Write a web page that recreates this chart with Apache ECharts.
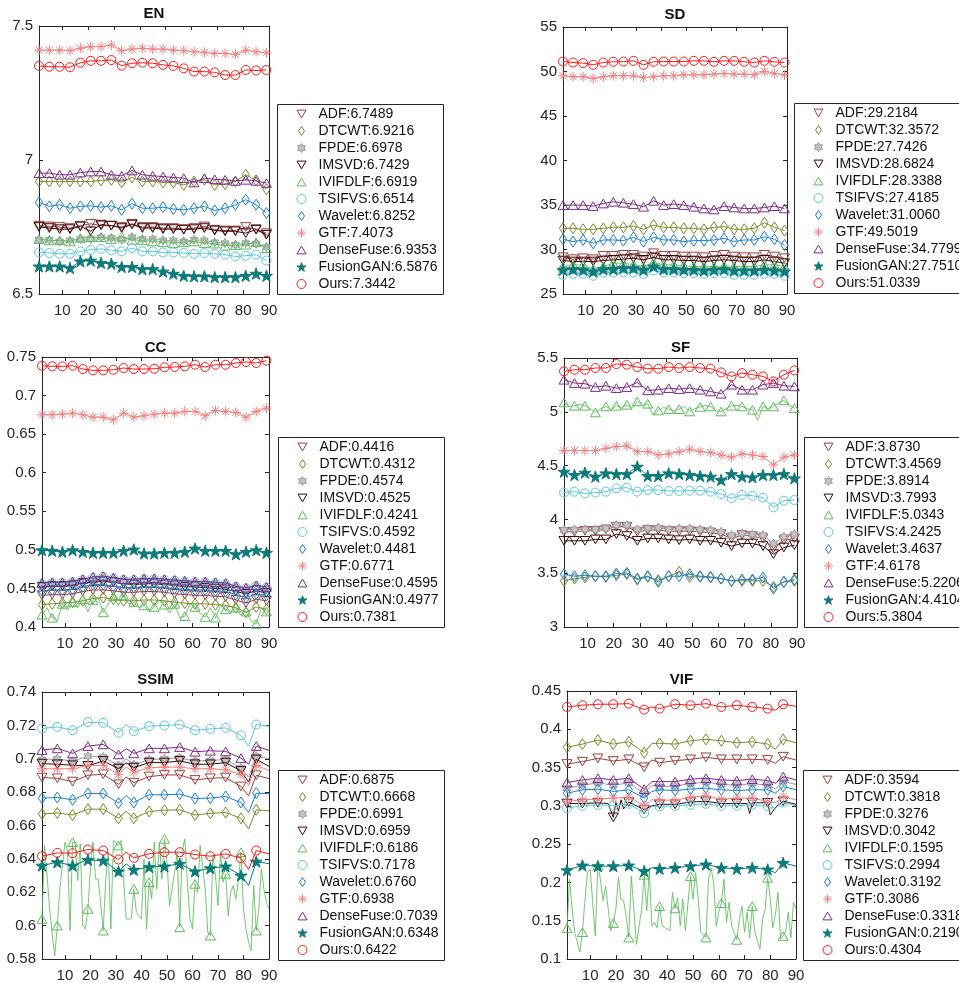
<!DOCTYPE html>
<html><head><meta charset="utf-8">
<script src="https://cdn.jsdelivr.net/npm/echarts@6/dist/echarts.min.js"></script>
<style>html,body{margin:0;padding:0;background:#fff}#c{width:959px;height:983px}</style>
</head><body><div id="c"></div>
<script>
// ---------------- DATA ----------------
const METHODS = ['ADF','DTCWT','FPDE','IMSVD','IVIFDLF','TSIFVS','Wavelet','GTF','DenseFuse','FusionGAN','Ours'];
const TITLES = ['EN','SD','CC','SF','SSIM','VIF'];
const Y_MIN = [6.5, 25, 0.4, 3, 0.58, 0.1];
const Y_MAX = [7.5, 55, 0.75, 5.5, 0.74, 0.45];
const Y_STEP = [0.5, 5, 0.05, 0.5, 0.02, 0.05];
const X_TICKS = [10,20,30,40,50,60,70,80,90];

const LEG_EN = ['6.7489','6.9216','6.6978','6.7429','6.6919','6.6514','6.8252','7.4073','6.9353','6.5876','7.3442'];
const LEG_SD = ['29.2184','32.3572','27.7426','28.6824','28.3388','27.4185','31.0060','49.5019','34.7799','27.7510','51.0339'];
const LEG_CC = ['0.4416','0.4312','0.4574','0.4525','0.4241','0.4592','0.4481','0.6771','0.4595','0.4977','0.7381'];
const LEG_SF = ['3.8730','3.4569','3.8914','3.7993','5.0343','4.2425','3.4637','4.6178','5.2206','4.4104','5.3804'];
const LEG_SSIM = ['0.6875','0.6668','0.6991','0.6959','0.6186','0.7178','0.6760','0.6938','0.7039','0.6348','0.6422'];
const LEG_VIF = ['0.3594','0.3818','0.3276','0.3042','0.1595','0.2994','0.3192','0.3086','0.3318','0.2190','0.4304'];

// x positions: EN/SD/CC/SF sampled every 4 images; SSIM/VIF every 6 (+ a few visible dips)
const X4 = [1,5,9,13,17,21,25,29,33,37,41,45,49,53,57,61,65,69,73,77,81,85,89];
const X2 = [1,3,5,7,9,11,13,15,17,19,21,23,25,27,29,31,33,35,37,39,41,43,45,47,49,51,53,55,57,59,61,63,65,67,69,71,73,75,77,79,81,83,85,87,89];
const X6 = [1,7,13,19,25,31,34,37,43,49,55,61,67,73,79,82,85,90];

// EN
const EN_ADF = [6.755,6.752,6.750,6.746,6.755,6.762,6.755,6.755,6.750,6.762,6.750,6.750,6.746,6.746,6.742,6.746,6.752,6.740,6.737,6.737,6.750,6.742,6.727];
const EN_DTCWT = [6.920,6.920,6.920,6.920,6.920,6.920,6.924,6.926,6.917,6.935,6.920,6.920,6.916,6.916,6.907,6.920,6.926,6.907,6.910,6.920,6.945,6.924,6.891];
const EN_FPDE = [6.702,6.702,6.696,6.700,6.705,6.705,6.712,6.709,6.702,6.712,6.705,6.705,6.700,6.700,6.696,6.702,6.700,6.693,6.690,6.684,6.690,6.688,6.675];
const EN_IMSVD = [6.750,6.746,6.742,6.742,6.752,6.734,6.759,6.755,6.746,6.759,6.746,6.746,6.742,6.742,6.740,6.742,6.746,6.737,6.734,6.734,6.727,6.740,6.721];
const EN_IVIFDLF = [6.705,6.700,6.700,6.696,6.709,6.712,6.712,6.705,6.715,6.702,6.700,6.696,6.693,6.690,6.693,6.696,6.690,6.688,6.680,6.682,6.684,6.693,6.671];
const EN_TSIFVS = [6.655,6.653,6.650,6.650,6.659,6.665,6.668,6.663,6.659,6.671,6.659,6.659,6.655,6.655,6.653,6.650,6.653,6.650,6.647,6.640,6.643,6.647,6.625];
const EN_Wavelet = [6.842,6.827,6.833,6.820,6.827,6.829,6.824,6.829,6.814,6.837,6.820,6.820,6.824,6.817,6.814,6.820,6.827,6.812,6.820,6.833,6.852,6.833,6.802];
const EN_GTF = [7.410,7.410,7.410,7.408,7.417,7.423,7.423,7.429,7.408,7.414,7.417,7.414,7.414,7.410,7.408,7.404,7.402,7.398,7.398,7.394,7.410,7.404,7.400];
const EN_DenseFuse = [6.951,6.951,6.945,6.945,6.953,6.957,6.957,6.945,6.941,6.961,6.945,6.941,6.938,6.935,6.932,6.916,6.932,6.928,6.926,6.922,6.926,6.922,6.914];
const EN_FusionGAN = [6.603,6.603,6.603,6.597,6.622,6.625,6.616,6.613,6.601,6.601,6.593,6.593,6.584,6.576,6.568,6.566,6.566,6.563,6.563,6.563,6.568,6.576,6.568];
const EN_Ours = [7.351,7.348,7.348,7.346,7.363,7.370,7.370,7.373,7.352,7.361,7.363,7.361,7.355,7.351,7.342,7.330,7.330,7.327,7.317,7.317,7.336,7.334,7.336];

// SD
const SD_ADF = [29.13,28.91,29.02,28.91,29.28,29.28,29.40,29.40,29.21,29.58,29.28,29.28,29.21,29.21,29.13,29.28,29.40,29.21,29.13,29.13,29.40,29.21,29.02];
const SD_DTCWT = [32.38,32.38,32.27,32.27,32.38,32.49,32.49,32.64,32.27,32.75,32.49,32.49,32.38,32.38,32.27,32.49,32.57,32.27,32.27,32.38,33.01,32.49,32.12];
const SD_FPDE = [27.79,27.72,27.72,27.53,27.79,27.90,27.90,27.90,27.79,28.09,27.79,27.79,27.72,27.72,27.64,27.72,27.79,27.72,27.64,27.64,27.79,27.72,27.64];
const SD_IMSVD = [28.76,28.65,28.65,28.65,28.76,28.84,28.91,29.02,28.84,29.13,28.84,28.84,28.76,28.76,28.65,28.76,28.84,28.76,28.65,28.65,28.84,28.65,28.46];
const SD_IVIFDLF = [28.09,28.28,28.28,27.79,28.09,28.46,28.46,28.28,28.09,28.54,28.28,28.28,28.16,28.09,28.09,28.09,28.16,28.09,28.09,28.09,28.28,28.28,28.09];
const SD_TSIFVS = [27.16,27.27,27.27,27.05,27.42,27.42,27.42,27.42,27.27,27.64,27.42,27.42,27.35,27.35,27.27,27.35,27.35,27.16,27.16,27.16,27.27,27.27,27.05];
const SD_Wavelet = [31.15,30.89,31.07,30.70,31.07,31.07,31.00,31.37,30.89,31.37,31.07,31.07,30.89,31.00,31.00,31.07,31.26,30.89,31.07,31.07,31.44,31.15,30.51];
const SD_GTF = [49.52,49.41,49.41,49.22,49.41,49.52,49.52,49.52,49.33,49.41,49.52,49.52,49.63,49.63,49.63,49.71,49.78,49.71,49.71,49.63,50.01,49.78,49.63];
const SD_DenseFuse = [34.99,34.99,34.99,34.87,35.17,35.36,35.25,35.10,34.80,35.47,34.99,35.10,34.99,34.80,34.61,34.50,34.87,34.72,34.61,34.61,34.72,34.87,34.61];
const SD_FusionGAN = [27.72,27.79,27.72,27.53,27.79,27.79,27.90,27.90,27.72,28.09,27.79,27.79,27.72,27.72,27.64,27.72,27.79,27.64,27.64,27.64,27.72,27.64,27.53];
const SD_Ours = [51.12,51.01,50.94,50.75,51.01,51.09,51.12,51.20,50.75,51.09,51.12,51.12,51.12,51.20,51.20,51.09,51.20,51.20,51.09,51.01,51.20,51.09,51.01];

// CC
const CC_ADF = [0.441,0.442,0.442,0.443,0.446,0.448,0.448,0.447,0.445,0.445,0.446,0.446,0.445,0.443,0.442,0.441,0.441,0.440,0.439,0.435,0.431,0.436,0.434];
const CC_DTCWT = [0.429,0.430,0.431,0.432,0.434,0.437,0.438,0.436,0.434,0.434,0.435,0.435,0.434,0.432,0.431,0.430,0.430,0.429,0.428,0.425,0.419,0.426,0.423];
const CC_FPDE = [0.454,0.455,0.455,0.456,0.459,0.461,0.462,0.461,0.459,0.459,0.460,0.460,0.459,0.458,0.457,0.456,0.456,0.455,0.454,0.450,0.448,0.451,0.449];
const CC_IMSVD = [0.452,0.453,0.453,0.454,0.457,0.458,0.459,0.458,0.456,0.455,0.456,0.456,0.455,0.454,0.452,0.452,0.451,0.450,0.449,0.446,0.443,0.447,0.444];
const CC_IVIFDLF = [0.416,0.425,0.412,0.408,0.430,0.422,0.432,0.425,0.436,0.420,0.435,0.438,0.419,0.430,0.440,0.428,0.441,0.430,0.432,0.425,0.428,0.420,0.426,0.434,0.429,0.418,0.430,0.412,0.414,0.430,0.426,0.418,0.413,0.425,0.412,0.428,0.423,0.418,0.425,0.415,0.420,0.408,0.404,0.425,0.420];
const CC_TSIFVS = [0.456,0.457,0.457,0.458,0.461,0.464,0.465,0.463,0.461,0.461,0.462,0.462,0.461,0.460,0.459,0.458,0.458,0.457,0.456,0.452,0.450,0.453,0.451];
const CC_Wavelet = [0.447,0.448,0.448,0.449,0.452,0.455,0.455,0.453,0.451,0.451,0.452,0.452,0.451,0.450,0.449,0.448,0.448,0.447,0.446,0.442,0.438,0.443,0.441];
const CC_GTF = [0.6751,0.6751,0.6759,0.6772,0.6751,0.6720,0.6720,0.6686,0.6772,0.6720,0.6738,0.6759,0.6772,0.6772,0.6794,0.6794,0.6738,0.6807,0.6794,0.6781,0.6720,0.6794,0.6837];
const CC_DenseFuse = [0.457,0.458,0.458,0.459,0.462,0.465,0.466,0.464,0.462,0.462,0.463,0.463,0.462,0.461,0.460,0.459,0.459,0.458,0.457,0.453,0.451,0.454,0.452];
const CC_FusionGAN = [0.4996,0.4988,0.4975,0.4996,0.4975,0.4962,0.4962,0.4962,0.4988,0.5005,0.4953,0.4953,0.4962,0.4962,0.4975,0.5018,0.4988,0.4988,0.4988,0.4944,0.4975,0.4996,0.4962];
const CC_Ours = [0.7387,0.7379,0.7379,0.7387,0.7344,0.7327,0.7327,0.7335,0.7357,0.7344,0.7344,0.7348,0.7366,0.7370,0.7379,0.7400,0.7370,0.7400,0.7400,0.7422,0.7435,0.7422,0.7452];

// SF
const SF_ADF = [3.885,3.885,3.894,3.894,3.907,3.932,3.932,3.885,3.901,3.901,3.891,3.891,3.891,3.885,3.876,3.863,3.823,3.854,3.845,3.823,3.730,3.807,3.823];
const SF_DTCWT = [3.429,3.450,3.460,3.472,3.466,3.481,3.491,3.441,3.466,3.435,3.472,3.512,3.466,3.466,3.460,3.450,3.429,3.429,3.429,3.429,3.373,3.419,3.429];
const SF_FPDE = [3.901,3.907,3.907,3.907,3.916,3.947,3.947,3.907,3.916,3.922,3.907,3.916,3.916,3.907,3.901,3.885,3.854,3.870,3.863,3.854,3.776,3.839,3.863];
const SF_IMSVD = [3.801,3.801,3.801,3.814,3.814,3.863,3.845,3.801,3.823,3.823,3.814,3.807,3.814,3.801,3.801,3.783,3.752,3.776,3.776,3.752,3.677,3.739,3.761];
const SF_IVIFDLF = [5.087,5.050,5.056,5.070,5.056,5.030,4.994,5.030,5.050,5.020,5.056,5.040,5.065,5.030,5.096,5.060,5.075,4.970,5.012,5.040,5.025,5.010,5.025,5.050,5.003,5.030,5.045,5.060,5.050,5.010,5.003,5.030,5.056,5.060,5.050,5.030,5.019,4.920,5.050,5.030,5.050,5.080,5.106,5.060,5.034];
const SF_TSIFVS = [4.249,4.258,4.242,4.249,4.258,4.289,4.295,4.258,4.273,4.273,4.264,4.264,4.267,4.267,4.258,4.236,4.196,4.227,4.220,4.202,4.112,4.174,4.180];
const SF_Wavelet = [3.491,3.472,3.481,3.472,3.472,3.497,3.503,3.450,3.472,3.419,3.472,3.472,3.491,3.472,3.466,3.450,3.429,3.441,3.441,3.460,3.357,3.419,3.441];
const SF_GTF = [4.640,4.640,4.640,4.640,4.661,4.677,4.683,4.630,4.630,4.599,4.609,4.630,4.652,4.630,4.621,4.599,4.578,4.609,4.599,4.584,4.506,4.578,4.599];
const SF_DenseFuse = [5.298,5.267,5.261,5.230,5.242,5.220,5.230,5.273,5.199,5.205,5.220,5.211,5.220,5.205,5.189,5.168,5.252,5.205,5.205,5.252,5.267,5.242,5.236];
const SF_FusionGAN = [4.444,4.413,4.435,4.398,4.429,4.422,4.422,4.491,4.404,4.404,4.429,4.422,4.413,4.404,4.398,4.366,4.422,4.398,4.391,4.413,4.413,4.422,4.382];
const SF_Ours = [5.376,5.391,5.391,5.407,5.407,5.444,5.438,5.416,5.401,5.401,5.416,5.407,5.416,5.407,5.401,5.366,5.329,5.360,5.345,5.329,5.283,5.345,5.385];

// SSIM
const SSIM_ADF = [0.6887,0.6883,0.6863,0.6901,0.6907,0.6847,0.6890,0.6857,0.6893,0.6903,0.6903,0.6873,0.6883,0.6887,0.6834,0.6778,0.6901,0.6881];
const SSIM_DTCWT = [0.6669,0.6675,0.6663,0.6698,0.6698,0.6643,0.6685,0.6643,0.6684,0.6692,0.6694,0.6663,0.6673,0.6678,0.6643,0.6579,0.6694,0.6688];
const SSIM_FPDE = [0.6995,0.7000,0.6985,0.7015,0.7010,0.6960,0.7000,0.6965,0.6995,0.7000,0.7005,0.6985,0.6990,0.6995,0.6945,0.6890,0.7015,0.7000];
const SSIM_IMSVD = [0.6971,0.6967,0.6961,0.6957,0.6987,0.6941,0.6975,0.6947,0.6977,0.6977,0.6987,0.6967,0.6967,0.6977,0.6927,0.6860,0.6996,0.6955];
const SSIM_IVIFDLF_X = [1,2,3,4,5,6,7,8,10,11,12,13,14,15,16,17,18,19,20,21,22,23,24,25,26,27,28,29,31,32,33,34,36,37,38,40,41,42,43,44,45,46,47,48,49,50,51,53,54,55,56,57,58,59,60,61,62,63,64,65,66,67,68,69,70,71,72,73,74,75,76,77,78,79,80,81,82,83,84,85,86,87,88,89,90];
const SSIM_IVIFDLF = [0.604,0.648,0.630,0.610,0.595,0.582,0.600,0.622,0.650,0.645,0.597,0.650,0.650,0.627,0.649,0.600,0.598,0.610,0.634,0.650,0.628,0.628,0.614,0.597,0.628,0.644,0.598,0.651,0.648,0.651,0.628,0.604,0.604,0.622,0.608,0.604,0.640,0.598,0.626,0.616,0.650,0.622,0.650,0.628,0.652,0.638,0.612,0.632,0.644,0.599,0.645,0.652,0.626,0.604,0.598,0.625,0.620,0.648,0.635,0.622,0.596,0.594,0.642,0.630,0.612,0.644,0.626,0.631,0.606,0.620,0.624,0.616,0.627,0.644,0.610,0.598,0.590,0.585,0.624,0.597,0.610,0.634,0.622,0.614,0.610];
const SSIM_TSIFVS = [0.7181,0.7191,0.7171,0.7219,0.7215,0.7156,0.7205,0.7165,0.7195,0.7199,0.7205,0.7171,0.7179,0.7185,0.7140,0.7076,0.7205,0.7195];
const SSIM_Wavelet = [0.6764,0.6768,0.6754,0.6792,0.6792,0.6734,0.6780,0.6738,0.6784,0.6784,0.6788,0.6762,0.6764,0.6774,0.6738,0.6678,0.6794,0.6790];
const SSIM_GTF = [0.6940,0.6940,0.6940,0.6960,0.6960,0.6906,0.6950,0.6920,0.6946,0.6950,0.6950,0.6940,0.6940,0.6934,0.6906,0.6840,0.6960,0.6930];
const SSIM_DenseFuse = [0.7052,0.7062,0.7032,0.7076,0.7086,0.7026,0.7060,0.7032,0.7062,0.7062,0.7070,0.7042,0.7048,0.7044,0.7004,0.6967,0.7076,0.7050];
const SSIM_FusionGAN = [0.6360,0.6380,0.6360,0.6394,0.6390,0.6325,0.6370,0.6335,0.6351,0.6355,0.6371,0.6325,0.6344,0.6355,0.6301,0.6241,0.6384,0.6371];
const SSIM_Ours = [0.6416,0.6436,0.6434,0.6456,0.6450,0.6396,0.6440,0.6406,0.6430,0.6440,0.6440,0.6426,0.6416,0.6430,0.6404,0.6337,0.6450,0.6430];

// VIF
const VIF_ADF = [0.3547,0.3577,0.3621,0.3586,0.3608,0.3504,0.3599,0.3564,0.3590,0.3608,0.3634,0.3608,0.3608,0.3608,0.3599,0.3556,0.3642,0.3599];
const VIF_DTCWT = [0.3764,0.3807,0.3859,0.3807,0.3837,0.3694,0.3816,0.3816,0.3807,0.3850,0.3868,0.3850,0.3824,0.3837,0.3807,0.3740,0.3868,0.3824];
const VIF_FPDE = [0.323,0.327,0.330,0.327,0.330,0.316,0.327,0.325,0.326,0.329,0.331,0.328,0.327,0.329,0.327,0.322,0.332,0.328];
const VIF_IMSVD_X = [1,7,13,17,19,20,21,22,23,25,31,34,37,43,49,55,61,67,71,72,73,79,80,82,85,90];
const VIF_IMSVD = [0.303,0.303,0.304,0.303,0.285,0.305,0.293,0.308,0.296,0.305,0.295,0.300,0.302,0.302,0.305,0.306,0.303,0.303,0.303,0.290,0.304,0.304,0.288,0.298,0.306,0.302];
const VIF_IVIFDLF_X = [1,2,3,4,6,7,8,9,10,12,13,14,15,16,18,19,20,21,22,23,24,25,26,28,30,31,32,33,34,35,36,37,38,39,41,42,43,44,45,46,47,49,50,51,52,53,55,56,57,58,59,60,61,62,63,64,65,67,68,69,70,71,72,73,74,76,77,78,79,80,81,82,83,84,85,86,87,88,89,90];
const VIF_IVIFDLF = [0.140,0.204,0.165,0.135,0.109,0.135,0.178,0.213,0.217,0.130,0.222,0.204,0.176,0.195,0.137,0.147,0.165,0.207,0.178,0.176,0.156,0.128,0.208,0.119,0.165,0.210,0.163,0.215,0.143,0.148,0.141,0.169,0.143,0.141,0.137,0.187,0.166,0.180,0.143,0.178,0.137,0.208,0.178,0.213,0.178,0.135,0.128,0.204,0.219,0.200,0.143,0.161,0.173,0.204,0.148,0.174,0.143,0.125,0.152,0.169,0.135,0.161,0.128,0.169,0.135,0.113,0.152,0.165,0.206,0.178,0.141,0.158,0.187,0.126,0.130,0.137,0.161,0.128,0.174,0.165];
const VIF_TSIFVS = [0.2971,0.3001,0.3014,0.3001,0.3027,0.2906,0.2993,0.2993,0.3001,0.3014,0.3027,0.3001,0.3001,0.3014,0.2993,0.2971,0.3045,0.3001];
const VIF_Wavelet = [0.3166,0.3209,0.3218,0.3188,0.3209,0.3101,0.3188,0.3209,0.3201,0.3218,0.3231,0.3209,0.3201,0.3209,0.3209,0.3166,0.3252,0.3209];
const VIF_GTF = [0.3058,0.3079,0.3088,0.3101,0.3114,0.3001,0.3079,0.3079,0.3071,0.3114,0.3131,0.3088,0.3101,0.3101,0.3058,0.3040,0.3123,0.3079];
const VIF_DenseFuse = [0.3305,0.3339,0.3361,0.3339,0.3361,0.3218,0.3317,0.3317,0.3317,0.3348,0.3361,0.3339,0.3330,0.3348,0.3330,0.3296,0.3382,0.3339];
const VIF_FusionGAN = [0.2161,0.2222,0.2213,0.2213,0.2222,0.2148,0.2191,0.2178,0.2191,0.2213,0.2235,0.2191,0.2178,0.2191,0.2170,0.2126,0.2256,0.2213];
const VIF_Ours = [0.4292,0.4314,0.4327,0.4327,0.4335,0.4257,0.4292,0.4270,0.4327,0.4314,0.4335,0.4292,0.4314,0.4292,0.4270,0.4249,0.4327,0.4301];

// ------------- tables built from the arrays -------------
const VALUES = [
  [EN_ADF,EN_DTCWT,EN_FPDE,EN_IMSVD,EN_IVIFDLF,EN_TSIFVS,EN_Wavelet,EN_GTF,EN_DenseFuse,EN_FusionGAN,EN_Ours],
  [SD_ADF,SD_DTCWT,SD_FPDE,SD_IMSVD,SD_IVIFDLF,SD_TSIFVS,SD_Wavelet,SD_GTF,SD_DenseFuse,SD_FusionGAN,SD_Ours],
  [CC_ADF,CC_DTCWT,CC_FPDE,CC_IMSVD,CC_IVIFDLF,CC_TSIFVS,CC_Wavelet,CC_GTF,CC_DenseFuse,CC_FusionGAN,CC_Ours],
  [SF_ADF,SF_DTCWT,SF_FPDE,SF_IMSVD,SF_IVIFDLF,SF_TSIFVS,SF_Wavelet,SF_GTF,SF_DenseFuse,SF_FusionGAN,SF_Ours],
  [SSIM_ADF,SSIM_DTCWT,SSIM_FPDE,SSIM_IMSVD,SSIM_IVIFDLF,SSIM_TSIFVS,SSIM_Wavelet,SSIM_GTF,SSIM_DenseFuse,SSIM_FusionGAN,SSIM_Ours],
  [VIF_ADF,VIF_DTCWT,VIF_FPDE,VIF_IMSVD,VIF_IVIFDLF,VIF_TSIFVS,VIF_Wavelet,VIF_GTF,VIF_DenseFuse,VIF_FusionGAN,VIF_Ours]
];
const XOVERRIDE = [
  {}, {}, {4: X2}, {4: X2}, {4: SSIM_IVIFDLF_X}, {3: VIF_IMSVD_X, 4: VIF_IVIFDLF_X}
];
const DEF_X = [X4, X4, X4, X4, X6, X6];
const MARK_STEP = [4, 4, 4, 4, 6, 6];
const LEGENDS = [LEG_EN, LEG_SD, LEG_CC, LEG_SF, LEG_SSIM, LEG_VIF];

// ------------- styles / layout -------------
const COLORS = ['#9b3f3f','#7c8a2c','#9a9a9a','#3a0808','#5cbd5c','#5cc6df','#1a7fd4','#f28080','#7d2a8c','#0d7b7a','#ff1a1a'];
const TRI_DOWN = 'path://M0,0 L10,0 L5,8.66 Z';
const TRI_UP = 'path://M5,0 L10,8.66 L0,8.66 Z';
const DIAMOND = 'path://M4,0 L8,6 L4,12 L0,6 Z';
const HEXAGRAM = 'path://M5,0 L6.443,2.5 L9.33,2.5 L7.887,5 L9.33,7.5 L6.443,7.5 L5,10 L3.557,7.5 L0.67,7.5 L2.113,5 L0.67,2.5 L3.557,2.5 Z';
const PENTAGRAM = 'path://M5,0 L6.123,3.455 L9.755,3.455 L6.817,5.59 L7.939,9.045 L5,6.91 L2.061,9.045 L3.183,5.59 L0.245,3.455 L3.877,3.455 Z';
const ASTERISK = 'path://M5,0 L5,10 M0,5 L10,5 M1.5,1.5 L8.5,8.5 M1.5,8.5 L8.5,1.5';
const SYMBOLS = [TRI_DOWN, DIAMOND, HEXAGRAM, TRI_DOWN, TRI_UP, 'circle', DIAMOND, ASTERISK, TRI_UP, PENTAGRAM, 'circle'];
const SYM_SIZE = [10, 11, 9, 10, 10, 9, 11, 10, 10, 12, 9];
const FILLS = ['none','none','#c4c4c4','none','none','none','none','none','none','#0d7b7a','none'];

const LAYOUT = [
  {l:39, t:26, w:230, h:268, box:[277,104,166,190], ty:6},
  {l:563, t:27, w:224, h:267, box:[794,103,200,190], ty:7},
  {l:42, t:357, w:227, h:270, box:[278,437,166,190], ty:340},
  {l:564, t:358, w:233, h:269, box:[804,437,200,190], ty:340},
  {l:42, t:692, w:227, h:269, box:[278,770,166,190], ty:672},
  {l:567, t:691, w:229, h:269, box:[803,770,200,190], ty:672}
];
const AX = '#262626';
const FONT = '"Liberation Sans", Arial, Helvetica, sans-serif';

// ------------- option -------------
const grids = [], xAxes = [], yAxes = [], titles = [], legends = [], series = [], graphics = [];
const xTop = [], yRight = [];
LAYOUT.forEach((L, p) => {
  grids.push({left:L.l, top:L.t, width:L.w, height:L.h});
  titles.push({text:TITLES[p], left:L.l + L.w/2, top:L.ty, textAlign:'center', padding:0,
    textStyle:{fontSize:15, fontWeight:'bold', color:'#111', fontFamily:FONT}});
  const axLine = {show:true, onZero:false, lineStyle:{color:AX, width:1}};
  const tick = {show:true, inside:true, length:4, lineStyle:{color:AX, width:1}};
  xAxes.push({type:'value', gridIndex:p, min:1, max:90, position:'bottom', axisLine:axLine,
    axisTick:Object.assign({customValues:X_TICKS}, tick),
    axisLabel:{customValues:X_TICKS, color:AX, fontSize:15, margin:9, fontFamily:FONT}, splitLine:{show:false}});
  xTop.push({type:'value', gridIndex:p, min:1, max:90, position:'top', axisLine:axLine,
    axisTick:Object.assign({customValues:X_TICKS}, tick), axisLabel:{show:false}, splitLine:{show:false}});
  yAxes.push({type:'value', gridIndex:p, min:Y_MIN[p], max:Y_MAX[p], interval:Y_STEP[p], position:'left', axisLine:axLine,
    axisTick:tick, axisLabel:{color:AX, fontSize:15, margin:6, fontFamily:FONT}, splitLine:{show:false}});
  yRight.push({type:'value', gridIndex:p, min:Y_MIN[p], max:Y_MAX[p], interval:Y_STEP[p], position:'right', axisLine:axLine,
    axisTick:tick, axisLabel:{show:false}, splitLine:{show:false}});

  const [bx, by, bw, bh] = L.box;
  graphics.push({type:'rect', z:0, silent:true, shape:{x:bx+0.5, y:by+0.5, width:bw, height:bh},
    style:{fill:'#fff', stroke:AX, lineWidth:1}});

  const legData = [];
  METHODS.forEach((m, k) => {
    const name = m + ':' + LEGENDS[p][k];
    const c = COLORS[k];
    const fill = FILLS[k] === 'none' ? 'rgba(0,0,0,0)' : FILLS[k];
    const xs = XOVERRIDE[p][k] || DEF_X[p];
    const ys = VALUES[p][k];
    const step = MARK_STEP[p];
    const data = xs.map((x, i) => {
      const isMark = ((x - 1) % step === 0) && (step === 4 || x <= 85);
      return isMark ? [x, ys[i]] : {value:[x, ys[i]], symbol:'none'};
    });
    series.push({type:'line', name, xAxisIndex:p, yAxisIndex:p, data,
      symbol:SYMBOLS[k], symbolSize:SYM_SIZE[k], symbolKeepAspect:true, showAllSymbol:true,
      lineStyle:{color:c, width:1, opacity:(k===4 ? 0.85 : 1)},
      itemStyle:{color:fill, borderColor:c, borderWidth:1},
      emphasis:{disabled:true}, z:2 + k * 0.01, animation:false});
    legData.push({name, icon:SYMBOLS[k],
      itemStyle:{color:fill, borderColor:c, borderWidth:1}});
  });
  legends.push({orient:'vertical', left:bx + 19.5, top:by + 3, itemWidth:9, itemHeight:9, itemGap:3,
    padding:0, selectedMode:false, data:legData, z:5,
    textStyle:{fontSize:14, color:'#111', lineHeight:14, padding:[0,0,0,7.5], fontFamily:FONT}});
});

const option = {
  animation:false,
  backgroundColor:'#fff',
  textStyle:{fontFamily:FONT},
  title:titles,
  grid:grids,
  xAxis:xAxes.concat(xTop),
  yAxis:yAxes.concat(yRight),
  legend:legends,
  graphic:graphics,
  series:series
};
const chart = echarts.init(document.getElementById('c'), null, {renderer:'canvas'});
chart.setOption(option);
</script>
</body></html>
